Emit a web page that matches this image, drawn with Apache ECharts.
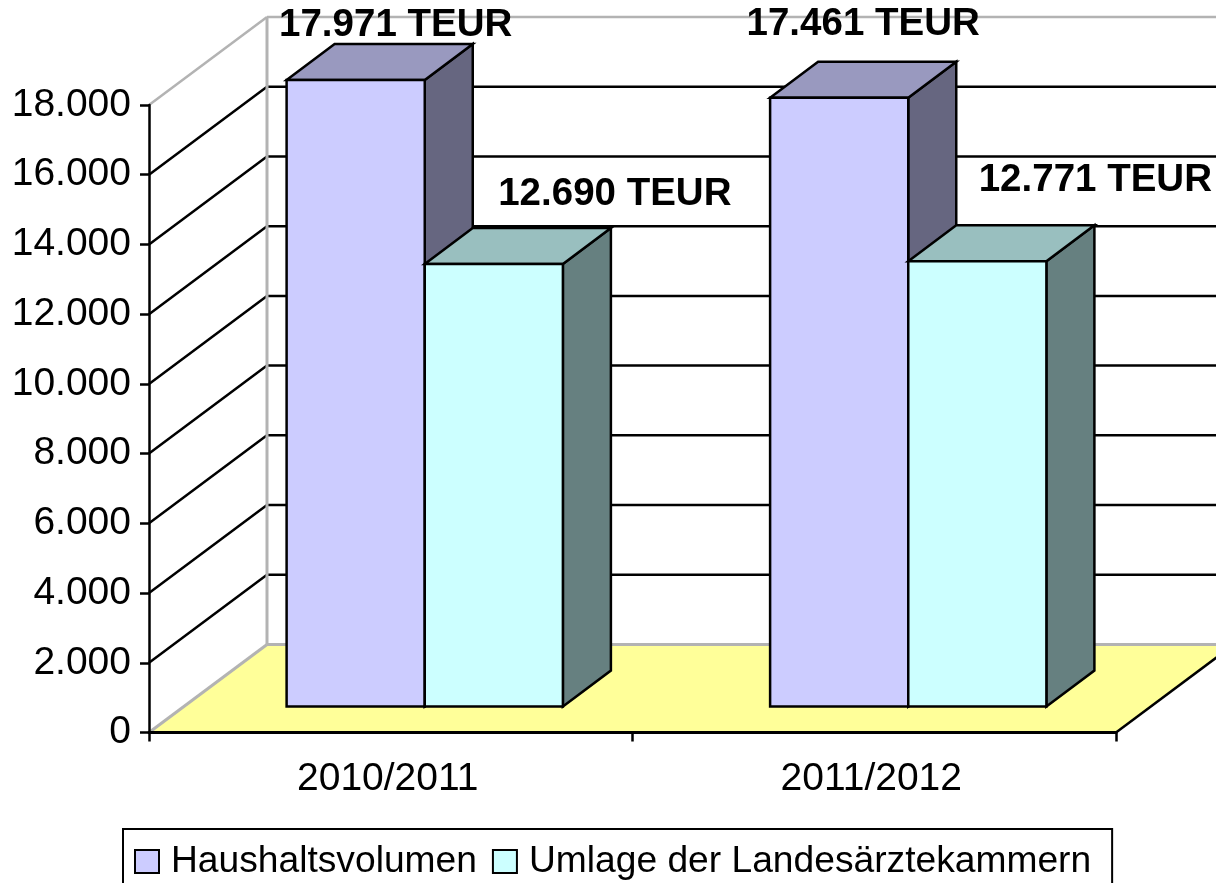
<!DOCTYPE html>
<html>
<head>
<meta charset="utf-8">
<title>Haushaltsvolumen</title>
<style>
html, body { margin: 0; padding: 0; background: #fff; overflow: hidden; }
#chart { width: 1216px; height: 883px; }
</style>
<script src="https://cdn.jsdelivr.net/npm/echarts@6/dist/echarts.min.js"></script>
</head>
<body>
<div id="chart"></div>
<script>
var categories = ['2010/2011', '2011/2012'];
var haushaltsvolumen = [17971, 17461];
var umlage = [12690, 12771];
var valueLabels1 = ['17.971 TEUR', '17.461 TEUR'];
var valueLabels2 = ['12.690 TEUR', '12.771 TEUR'];
var gridValues = [2000, 4000, 6000, 8000, 10000, 12000, 14000, 16000, 18000];

// 3D look, pixels
var wallDx = 118, wallDy = -88;
var barDx = 34, barDy = -26;
var depthDx = 48, depthDy = -36;
var barShare = 2 / 7;
var labelShift1 = [[40, -55], [24, -73]];
var labelShift2 = [[121, -70], [118, -81]];

var FONT = '"Liberation Sans", Arial, sans-serif';
var GREY = '#b3b3b3';

function poly(points, fill) {
    return {
        type: 'polygon',
        shape: { points: points },
        style: { fill: fill, stroke: '#000', lineWidth: 2.5, lineJoin: 'miter' }
    };
}

function line(x1, y1, x2, y2, color, width) {
    return {
        type: 'line',
        shape: { x1: x1, y1: y1, x2: x2, y2: y2 },
        style: { stroke: color, lineWidth: width || 2.5, fill: null }
    };
}

// walls, floor and grid lines
function renderWalls(params, api) {
    var band = api.size([1, 0])[0];
    var left = api.coord([0, 0])[0] - band / 2;
    var right = left + band * categories.length;
    var y0 = api.coord([0, 0])[1];
    var y = api.coord([0, api.value(0)])[1];
    var kids = [];
    var isTop = api.value(0) === gridValues[gridValues.length - 1];
    var color = isTop ? GREY : '#000';

    if (params.dataIndex === 0) {
        kids.push({
            type: 'polygon',
            shape: { points: [[left, y0], [left + wallDx, y0 + wallDy], [right + wallDx, y0 + wallDy], [right, y0]] },
            style: { fill: '#ffff99', stroke: null }
        });
        kids.push(line(left + wallDx, y0 + wallDy, right + wallDx, y0 + wallDy, GREY, 3));
        kids.push(line(left, y0, left + wallDx, y0 + wallDy, GREY, 3));
        kids.push(line(right, y0, right + wallDx, y0 + wallDy, '#000'));
    }
    kids.push(line(left, y, left + wallDx, y + wallDy, color));
    kids.push(line(left + wallDx, y + wallDy, right + wallDx, y + wallDy, color));
    if (isTop) {
        kids.push(line(left + wallDx, y0 + wallDy, left + wallDx, y + wallDy, GREY, 3));
    }
    return { type: 'group', children: kids };
}

function barRenderer(slot, front, top, side, labels, shifts) {
    return function (params, api) {
        var i = api.value(0);
        var val = api.value(1);
        var center = api.coord([i, val]);
        var base = api.coord([i, 0]);
        var w = api.size([1, 0])[0] * barShare;
        var x1 = center[0] - w + slot * w + barDx;
        var x2 = x1 + w;
        var yt = center[1] + barDy;
        var yb = base[1] + barDy;
        var shift = shifts[params.dataIndex];
        return {
            type: 'group',
            children: [
                poly([[x2, yb], [x2 + depthDx, yb + depthDy], [x2 + depthDx, yt + depthDy], [x2, yt]], side),
                poly([[x1, yt], [x1 + depthDx, yt + depthDy], [x2 + depthDx, yt + depthDy], [x2, yt]], top),
                poly([[x1, yb], [x2, yb], [x2, yt], [x1, yt]], front),
                {
                    type: 'text',
                    z2: 50,
                    style: {
                        x: (x1 + x2) / 2 + shift[0],
                        y: yt + shift[1],
                        text: labels[params.dataIndex],
                        font: 'bold 38.5px ' + FONT,
                        fill: '#000',
                        align: 'center',
                        verticalAlign: 'middle'
                    }
                }
            ]
        };
    };
}

var chart = echarts.init(document.getElementById('chart'));

var option = {
    animation: false,
    backgroundColor: '#fff',
    grid: { left: 149, top: 105, width: 967, height: 627.5 },
    legend: {
        data: ['Haushaltsvolumen', 'Umlage der Landesärztekammern'],
        left: 123,
        top: 829,
        orient: 'horizontal',
        padding: [14, 21, 40, 11],
        itemWidth: 24,
        itemHeight: 23,
        itemGap: 15,
        borderColor: '#000',
        borderWidth: 2,
        borderRadius: 0,
        selectedMode: false,
        icon: 'rect',
        textStyle: { fontFamily: FONT, fontSize: 37.2, color: '#000', padding: [0, 0, 0, 7] }
    },
    xAxis: {
        type: 'category',
        data: categories,
        boundaryGap: true,
        z: 10,
        axisLine: { lineStyle: { color: '#000', width: 3 } },
        axisTick: { show: true, alignWithLabel: false, length: 9, lineStyle: { color: '#000', width: 2.5 } },
        axisLabel: { color: '#000', fontFamily: FONT, fontSize: 39, margin: 27, padding: [0, 6, 0, 0] },
        splitLine: { show: false }
    },
    yAxis: {
        type: 'value',
        min: 0,
        max: 18000,
        interval: 2000,
        z: 10,
        axisLine: { show: true, lineStyle: { color: '#000', width: 2.5 } },
        axisTick: { show: true, length: 9, lineStyle: { color: '#000', width: 2.5 } },
        axisLabel: {
            color: '#000',
            fontFamily: FONT,
            fontSize: 39,
            margin: 18,
            padding: [9, 0, 0, 0],
            formatter: function (v) {
                return String(v).replace(/\B(?=(\d{3})+$)/g, '.');
            }
        },
        splitLine: { show: false }
    },
    series: [
        {
            name: 'Wand',
            type: 'custom',
            z: 1,
            silent: true,
            encode: { y: 0 },
            data: gridValues.map(function (v) { return [v]; }),
            renderItem: renderWalls
        },
        {
            name: 'Haushaltsvolumen',
            type: 'custom',
            z: 3,
            itemStyle: { color: '#ccccff', borderColor: '#000', borderWidth: 2.5 },
            encode: { x: 0, y: 1 },
            data: haushaltsvolumen.map(function (v, i) { return [i, v]; }),
            renderItem: barRenderer(0, '#ccccff', '#9999bf', '#666680', valueLabels1, labelShift1)
        },
        {
            name: 'Umlage der Landesärztekammern',
            type: 'custom',
            z: 4,
            itemStyle: { color: '#ccffff', borderColor: '#000', borderWidth: 2.5 },
            encode: { x: 0, y: 1 },
            data: umlage.map(function (v, i) { return [i, v]; }),
            renderItem: barRenderer(1, '#ccffff', '#99bfbf', '#668080', valueLabels2, labelShift2)
        }
    ]
};

chart.setOption(option);
</script>
</body>
</html>
